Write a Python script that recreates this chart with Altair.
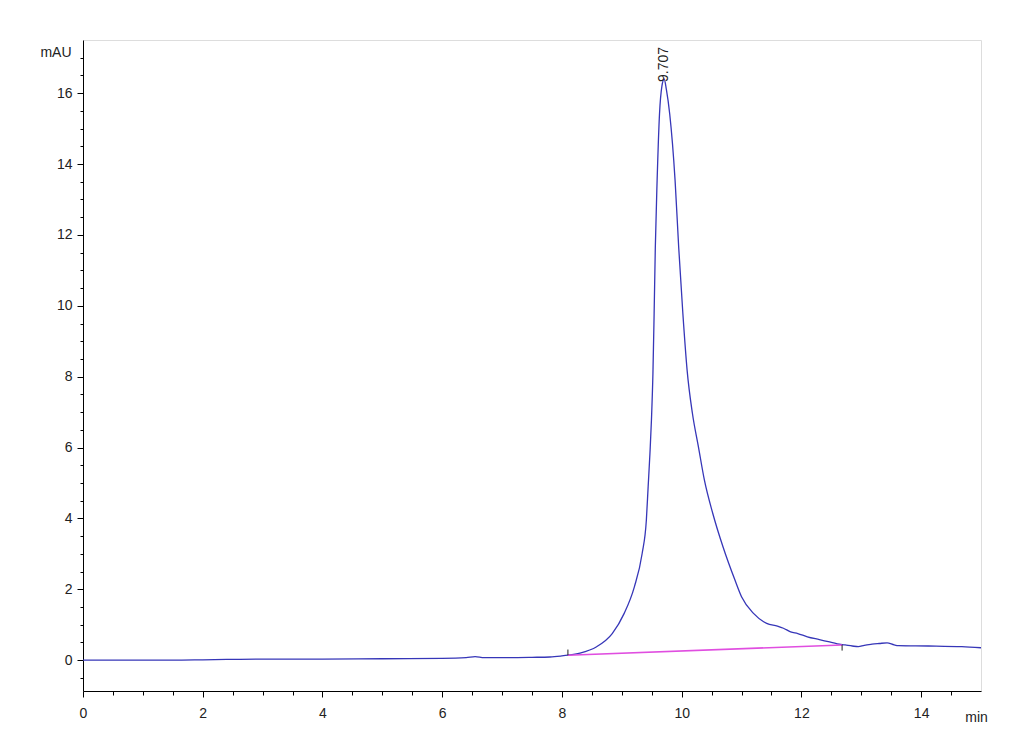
import altair as alt
import pandas as pd

# Chromatogram trace (min, mAU)
trace_x = [0.0, 0.5, 1.0, 1.5, 2.0, 2.4, 3.0, 4.0, 5.0, 6.0, 6.4, 6.55, 6.7, 7.0, 7.5,
           7.8, 8.0, 8.1, 8.3, 8.58, 8.84, 9.04, 9.21, 9.34, 9.41, 9.44, 9.47, 9.495,
           9.52, 9.54, 9.56, 9.59, 9.63, 9.67, 9.707, 9.745, 9.80, 9.89, 9.95, 10.02,
           10.09, 10.18, 10.28, 10.38, 10.52, 10.69, 10.89, 11.0, 11.2, 11.42, 11.6,
           11.7, 11.82, 11.94, 12.1, 12.3, 12.45, 12.6, 12.73, 12.85, 12.95, 13.05,
           13.18, 13.3, 13.43, 13.55, 13.62, 14.12, 14.68, 15.0]
trace_y = [0.0, 0.0, 0.0, 0.0, 0.01, 0.02, 0.03, 0.03, 0.04, 0.05, 0.07, 0.1, 0.07, 0.07,
           0.08, 0.09, 0.12, 0.14, 0.2, 0.38, 0.75, 1.32, 2.07, 3.01, 3.95, 4.89, 5.83,
           6.77, 8.09, 9.78, 11.66, 13.54, 15.42, 16.2, 16.4, 16.1, 15.42, 13.54, 11.66,
           9.78, 8.2, 6.96, 6.02, 5.08, 4.14, 3.2, 2.26, 1.79, 1.32, 1.04, 0.96, 0.9,
           0.8, 0.75, 0.66, 0.58, 0.52, 0.46, 0.43, 0.40, 0.38, 0.42, 0.45, 0.47, 0.49,
           0.43, 0.41, 0.40, 0.38, 0.35]

# Integration baseline
base_x = [8.1, 12.68]
base_y = [0.14, 0.43]

# Integration event marks (start, end)
event_x = [8.1, 12.68]
event_y = [0.14, 0.43]
event_y2 = [0.30, 0.27]

# Peak annotation
peak_rt = [9.707]
peak_h = [16.4]
peak_lbl = ["9.707"]

# Axis ticks
x_ticks = [v / 2 for v in range(0, 30)]          # 0 .. 14.5 step 0.5
y_ticks = [v / 2 for v in range(-1, 35)]         # -0.5 .. 17 step 0.5

FONT = "Liberation Sans"

trace_df = pd.DataFrame({"t": trace_x, "mAU": trace_y})
base_df = pd.DataFrame({"t": base_x, "mAU": base_y})
event_df = pd.DataFrame({"t": event_x, "mAU": event_y, "y2": event_y2})
peak_df = pd.DataFrame({"t": peak_rt, "mAU": peak_h, "lbl": peak_lbl})

xscale = alt.Scale(domain=[0, 15], nice=False, zero=False)
yscale = alt.Scale(domain=[-0.87, 17.5], nice=False, zero=False)

major_test = "abs(datum.value % 2) < 0.001"
label_expr = f"{major_test} ? format(datum.value, 'd') : ''"

x_axis = alt.Axis(
    values=x_ticks,
    labelExpr=label_expr,
    tickSize={"condition": {"test": major_test, "value": 6}, "value": 4},
    labelPadding=9,
    labelOverlap=False,
    labelFlush=False,
    labelFont=FONT, labelFontSize=14, labelColor="#222222",
    title="min", titleFont=FONT, titleFontSize=14, titleFontWeight="normal",
    titleColor="#222222", titleX=893, titleY=26, titleAlign="center",
    titleBaseline="middle", titleAnchor="start",
    grid=False, domainColor="black", tickColor="black", domainWidth=1,
)
y_axis = alt.Axis(
    values=y_ticks,
    labelExpr=label_expr,
    tickSize={"condition": {"test": major_test, "value": 6}, "value": 3},
    labelPadding=5,
    labelOverlap=False,
    labelFlush=False,
    labelFont=FONT, labelFontSize=14, labelColor="#222222",
    title="mAU", titleFont=FONT, titleFontSize=14, titleFontWeight="normal",
    titleColor="#222222", titleAngle=0, titleX=-12, titleY=12,
    titleAlign="right", titleBaseline="middle",
    grid=False, domainColor="black", tickColor="black", domainWidth=1,
)

X = alt.X("t:Q", scale=xscale, axis=x_axis)
Y = alt.Y("mAU:Q", scale=yscale, axis=y_axis)

trace = alt.Chart(trace_df).mark_line(
    color="#3636b8", strokeWidth=1.3, interpolate="monotone"
).encode(x=X, y=Y)

baseline = alt.Chart(base_df).mark_line(color="#e04ee0", strokeWidth=1.6).encode(
    x=X, y=Y
)

events = alt.Chart(event_df).mark_rule(color="#222222", strokeWidth=1).encode(
    x=X, y=Y, y2="y2:Q"
)

label = alt.Chart(peak_df).mark_text(
    angle=270, align="left", baseline="middle", dx=-3,
    font=FONT, fontSize=14, color="#222222"
).encode(x=X, y=Y, text="lbl:N")

chart = alt.layer(trace, baseline, events, label).properties(
    width=898, height=651,
    autosize=alt.AutoSizeParams(type="none"),
    padding={"left": 75, "top": 32, "right": 30, "bottom": 50},
).configure_view(stroke=None).configure(background="white")

chart.save("out.html", embed_options={"renderer": "svg", "actions": False})
